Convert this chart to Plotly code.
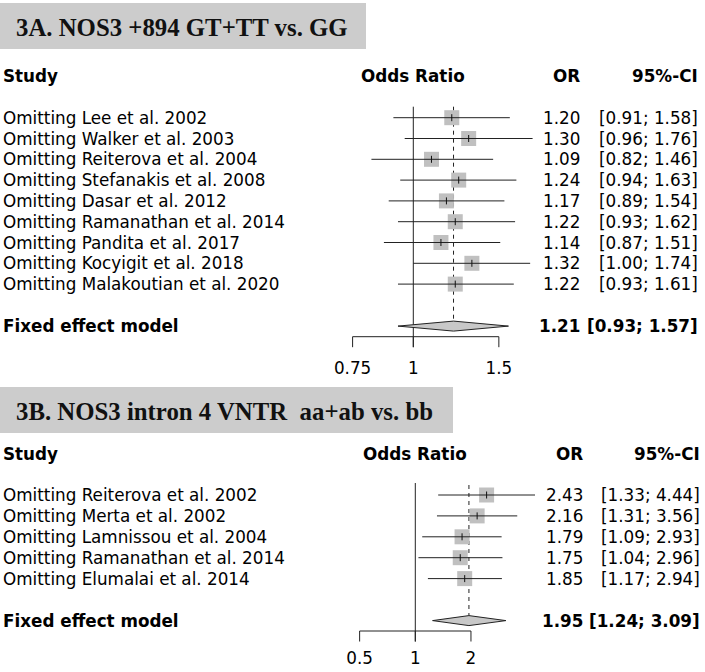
import numpy as np
import plotly.graph_objects as go

W, H = 705, 672

# ---------------- Panel A data ----------------
a_title = "3A. NOS3 +894 GT+TT vs. GG"
a_studies = [
    "Omitting Lee et al. 2002",
    "Omitting Walker et al. 2003",
    "Omitting Reiterova et al. 2004",
    "Omitting Stefanakis et al. 2008",
    "Omitting Dasar et al. 2012",
    "Omitting Ramanathan et al. 2014",
    "Omitting Pandita et al. 2017",
    "Omitting Kocyigit et al. 2018",
    "Omitting Malakoutian et al. 2020",
]
a_or = [1.20, 1.30, 1.09, 1.24, 1.17, 1.22, 1.14, 1.32, 1.22]
a_lo = [0.91, 0.96, 0.82, 0.94, 0.89, 0.93, 0.87, 1.00, 0.93]
a_hi = [1.58, 1.76, 1.46, 1.63, 1.54, 1.62, 1.51, 1.74, 1.61]
a_fixed = [1.21, 0.93, 1.57]
a_ticks = [0.75, 1, 1.5]
a_ticklabels = ["0.75", "1", "1.5"]

# ---------------- Panel B data ----------------
b_title = "3B. NOS3 intron 4 VNTR\u00a0\u00a0aa+ab vs. bb"
b_studies = [
    "Omitting Reiterova et al. 2002",
    "Omitting Merta et al. 2002",
    "Omitting Lamnissou et al. 2004",
    "Omitting Ramanathan et al. 2014",
    "Omitting Elumalai et al. 2014",
]
b_or = [2.43, 2.16, 1.79, 1.75, 1.85]
b_lo = [1.33, 1.31, 1.09, 1.04, 1.17]
b_hi = [4.44, 3.56, 2.93, 2.96, 2.94]
b_fixed = [1.95, 1.24, 3.09]
b_ticks = [0.5, 1, 2]
b_ticklabels = ["0.5", "1", "2"]

FONT = "DejaVu Sans"
FS = 16.8
SQ_COL = "#c0c0c0"
DIA_COL = "#c8c8c8"
BOX_COL = "#cccccc"

fig = go.Figure()
annotations = []
shapes = []


def px_x(p):
    return p / W


def add_panel(xa, title, box, title_x, title_y, studies, orv, lo, hi, fixed,
              ticks, ticklabels, y_header, y_row0, dy, fixed_gap,
              x_or_col, x_ci_col, axis_y, tick_len, label_y, line_top, dash_top):
    # title box + title
    shapes.append(dict(type="rect", xref="paper", yref="y", x0=0, x1=px_x(box[0]),
                       y0=box[1], y1=box[2], fillcolor=BOX_COL, line=dict(width=0),
                       layer="below"))
    annotations.append(dict(xref="paper", yref="y", x=px_x(title_x), y=title_y,
                            text="<b>%s</b>" % title, showarrow=False, xanchor="left",
                            yanchor="middle",
                            font=dict(family="Liberation Serif", size=24.8, color="#111111")))
    n = len(studies)
    ys = [y_row0 + i * dy for i in range(n)]
    y_fixed = ys[-1] + fixed_gap

    # headers
    hdr = dict(family=FONT, size=FS, color="black")
    annotations.append(dict(xref="paper", yref="y", x=px_x(1), y=y_header, text="<b>Study</b>",
                            showarrow=False, xanchor="left", yanchor="middle", font=hdr))
    annotations.append(dict(xref=xa, yref="y", x=np.log10(1), y=y_header, text="<b>Odds Ratio</b>",
                            showarrow=False, xanchor="center", yanchor="middle", font=hdr))
    annotations.append(dict(xref="paper", yref="y", x=px_x(x_or_col), y=y_header, text="<b>OR</b>",
                            showarrow=False, xanchor="right", yanchor="middle", font=hdr))
    annotations.append(dict(xref="paper", yref="y", x=px_x(x_ci_col), y=y_header, text="<b>95%-CI</b>",
                            showarrow=False, xanchor="right", yanchor="middle", font=hdr))

    # study rows text
    for s, o, l, h, y in zip(studies, orv, lo, hi, ys):
        annotations.append(dict(xref="paper", yref="y", x=px_x(1), y=y, text=s,
                                showarrow=False, xanchor="left", yanchor="middle", font=hdr))
        annotations.append(dict(xref="paper", yref="y", x=px_x(x_or_col), y=y, text="%.2f" % o,
                                showarrow=False, xanchor="right", yanchor="middle", font=hdr))
        annotations.append(dict(xref="paper", yref="y", x=px_x(x_ci_col), y=y,
                                text="[%.2f; %.2f]" % (l, h),
                                showarrow=False, xanchor="right", yanchor="middle", font=hdr))
    annotations.append(dict(xref="paper", yref="y", x=px_x(1), y=y_fixed,
                            text="<b>Fixed effect model</b>",
                            showarrow=False, xanchor="left", yanchor="middle", font=hdr))
    annotations.append(dict(xref="paper", yref="y", x=px_x(x_or_col), y=y_fixed,
                            text="<b>%.2f</b>" % fixed[0],
                            showarrow=False, xanchor="right", yanchor="middle", font=hdr))
    annotations.append(dict(xref="paper", yref="y", x=px_x(x_ci_col), y=y_fixed,
                            text="<b>[%.2f; %.2f]</b>" % (fixed[1], fixed[2]),
                            showarrow=False, xanchor="right", yanchor="middle", font=hdr))

    # vertical line of no effect
    fig.add_trace(go.Scatter(x=[1, 1], y=[line_top, axis_y + tick_len], mode="lines",
                             line=dict(color="#222222", width=1), xaxis=xa, hoverinfo="skip"))
    # dashed line at fixed estimate
    fig.add_trace(go.Scatter(x=[fixed[0], fixed[0]], y=[dash_top, y_fixed - 5], mode="lines",
                             line=dict(color="#222222", width=1, dash="4px,4px"),
                             xaxis=xa, hoverinfo="skip"))
    # squares
    fig.add_trace(go.Scatter(x=orv, y=ys, mode="markers", xaxis=xa, hoverinfo="skip",
                             marker=dict(symbol="square", size=15, color=SQ_COL,
                                         line=dict(width=0))))
    # CI lines
    cx, cy = [], []
    for l, h, y in zip(lo, hi, ys):
        cx += [l, h, None]
        cy += [y, y, None]
    fig.add_trace(go.Scatter(x=cx, y=cy, mode="lines", xaxis=xa, hoverinfo="skip",
                             line=dict(color="#222222", width=1)))
    # small point tick
    fig.add_trace(go.Scatter(x=orv, y=ys, mode="markers", xaxis=xa, hoverinfo="skip",
                             marker=dict(symbol="line-ns", size=5,
                                         line=dict(width=1, color="#111111"))))
    # diamond
    fig.add_trace(go.Scatter(x=[fixed[1], fixed[0], fixed[2], fixed[0], fixed[1]],
                             y=[y_fixed, y_fixed - 5, y_fixed, y_fixed + 5, y_fixed],
                             mode="lines", fill="toself", fillcolor=DIA_COL, xaxis=xa,
                             line=dict(color="#222222", width=1), hoverinfo="skip"))
    # axis line + ticks
    ax_x = [ticks[0], ticks[-1], None]
    ax_y = [axis_y, axis_y, None]
    for t in ticks:
        ax_x += [t, t, None]
        ax_y += [axis_y, axis_y + tick_len, None]
    fig.add_trace(go.Scatter(x=ax_x, y=ax_y, mode="lines", xaxis=xa, hoverinfo="skip",
                             line=dict(color="#222222", width=1)))
    fig.add_trace(go.Scatter(x=ticks, y=[label_y] * len(ticks), mode="text", text=ticklabels,
                             textposition="middle center", xaxis=xa, hoverinfo="skip",
                             textfont=dict(family=FONT, size=FS, color="black"),
                             cliponaxis=False))


# Panel A: x=1 at 413.3px, 211 px per ln-unit
a_scale = 211 * np.log(10)
a_range = [-413.3 / a_scale, (W - 413.3) / a_scale]
# Panel B: x=1 at 415.3px, 80.3 px per ln-unit
b_scale = 80.3 * np.log(10)
b_range = [-415.3 / b_scale, (W - 415.3) / b_scale]

add_panel("x", a_title, (366, 3, 49), 14, 27, a_studies, a_or, a_lo, a_hi, a_fixed,
          a_ticks, a_ticklabels, 76, 117.7, 20.8, 42, 581.7, 700,
          336.7, 10.5, 370, 106.7, 106.7)
add_panel("x2", b_title, (453, 387, 433), 14, 411, b_studies, b_or, b_lo, b_hi, b_fixed,
          b_ticks, b_ticklabels, 454, 495, 20.9, 42, 585, 702,
          631, 10.5, 660, 483, 485)

fig.update_layout(
    width=W, height=H, autosize=False,
    margin=dict(l=0, r=0, t=0, b=0),
    paper_bgcolor="white", plot_bgcolor="white",
    showlegend=False,
    xaxis=dict(type="log", range=a_range, domain=[0, 1], visible=False, fixedrange=True),
    xaxis2=dict(type="log", range=b_range, domain=[0, 1], visible=False, overlaying="x",
                fixedrange=True),
    yaxis=dict(range=[H, 0], domain=[0, 1], visible=False, fixedrange=True),
    annotations=annotations,
    shapes=shapes,
)

fig.write_html("out.html", config={"displayModeBar": False},
               post_script="document.body.style.margin='0px';document.body.style.overflow='hidden';")
